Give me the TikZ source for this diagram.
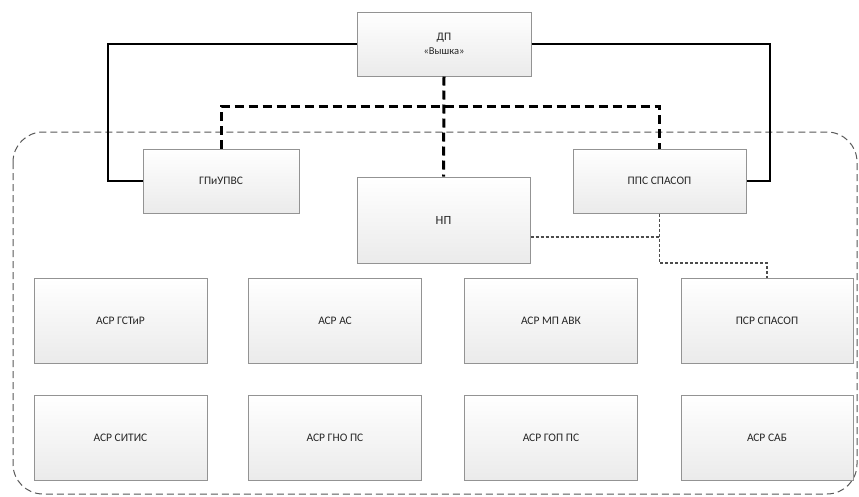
\documentclass[tikz,border=0pt]{standalone}
\usepackage{fontspec}
\setmainfont{Carlito}
\begin{document}
\begin{tikzpicture}[x=1pt,y=-1pt,
  box/.style={draw=gray!85,line width=1pt,top color=white,bottom color=gray!16,
    text=black!85,font=\fontsize{11.5}{13.5}\selectfont,align=center,inner sep=0pt},
  solidcon/.style={line width=2.6pt,black},
  thickdash/.style={line width=3pt,black,dash pattern=on 9pt off 5pt},
  thindash/.style={line width=1.2pt,black!70,dash pattern=on 3pt off 2pt},
  frame/.style={line width=1pt,black!65,dash pattern=on 7pt off 4pt,rounded corners=30pt}]
\useasboundingbox (0,0) rectangle (859,496);
\fill[white] (0,0) rectangle (859,496);
\draw[frame] (13,132) rectangle (857,494);
% boxes
\node[box,minimum width=174pt,minimum height=64pt] (dp) at (444,44) {ДП\\[1pt]\fontsize{10.5}{12}\selectfont«Вышка»};
\node[box,minimum width=156pt,minimum height=64pt] (gp) at (221,181) {ГПиУПВС};
\node[box,minimum width=173pt,minimum height=64pt] (pps) at (659.5,181) {ППС СПАСОП};
\node[box,minimum width=173pt,minimum height=86pt] (np) at (443.5,220) {\fontsize{12.5}{14}\selectfont НП};
\node[box,minimum width=173pt,minimum height=85pt] (a1) at (120.5,320.5) {АСР ГСТиР};
\node[box,minimum width=173pt,minimum height=85pt] (a2) at (335,320.5) {АСР АС};
\node[box,minimum width=173pt,minimum height=85pt] (a3) at (551,320.5) {АСР МП АВК};
\node[box,minimum width=172pt,minimum height=85pt] (a4) at (767,320.5) {ПСР СПАСОП};
\node[box,minimum width=173pt,minimum height=85pt] (b1) at (120.5,438) {АСР СИТИС};
\node[box,minimum width=173pt,minimum height=85pt] (b2) at (335,438) {АСР ГНО ПС};
\node[box,minimum width=173pt,minimum height=85pt] (b3) at (551,438) {АСР ГОП ПС};
\node[box,minimum width=172pt,minimum height=85pt] (b4) at (767,438) {АСР САБ};
% solid connectors
\draw[solidcon] (dp.west) -| (108,181) -- (gp.west);
\draw[solidcon] (dp.east) -| (770,181) -- (pps.east);
% thick dashed
\coordinate (hj) at (444,106);
\draw[thickdash] (dp.south) -- (np.north);
\draw[thickdash] (gp.north) |- (hj) -| (pps.north);
% thin dashed
\coordinate (vj) at (659.5,237);
\draw[thindash] (np.east |- vj) -- (vj);
\draw[thindash] (pps.south) |- (767,263) -- (a4.north);
\end{tikzpicture}
\end{document}
